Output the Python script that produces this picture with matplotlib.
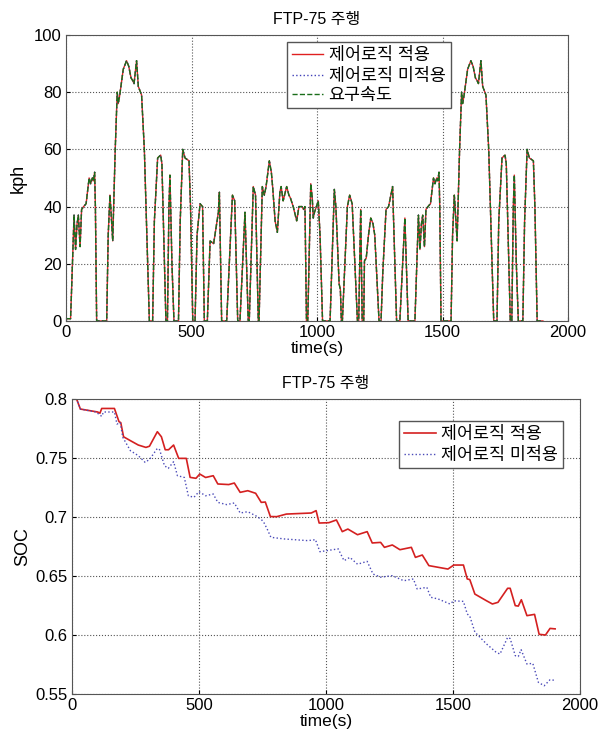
import matplotlib
matplotlib.use('Agg')
import matplotlib.pyplot as plt
import numpy as np
from matplotlib.ticker import FuncFormatter

plt.rcParams['font.family'] = ['Liberation Sans', 'Noto Sans CJK KR', 'DejaVu Sans']

# FTP-75 speed trace (time s, speed kph)
# cold start phase
bag1_t = [0, 18, 21, 32, 38, 44, 49, 56, 62, 70, 80, 92, 98, 105, 109, 114, 117, 122,
          162, 168, 175, 178, 186, 196, 204, 208, 214, 228, 241, 250, 259, 266, 271,
          281, 288, 301, 312, 322, 332, 345, 352, 365, 377, 382, 398, 404, 410, 414,
          422, 430, 448, 455, 465, 474, 490, 496, 505]
bag1_v = [0.8, 0.8, 8, 37, 25, 34, 37, 26, 39, 40, 41, 50, 48, 50, 49, 52, 40, 0,
          0, 30, 44, 40, 28, 60, 80, 76, 79, 88, 91, 89, 85, 84, 83,
          91, 82, 79, 60, 30, 0, 0, 35, 57, 58, 55, 0, 0, 40, 51,
          20, 0, 0, 35, 60, 57, 56, 40, 0]
# stabilized phase
bag2_t = [514, 522, 534, 544, 551, 563, 574, 588, 600, 607, 611, 620, 640, 663, 672,
          684, 693, 713, 726, 730, 746, 755, 766, 769, 782, 790, 797, 810, 818, 824,
          833, 842, 852, 857, 865, 879, 888, 894, 905, 919, 928, 940, 946, 952, 958,
          963, 975, 981, 985, 990, 1005, 1012, 1022, 1052, 1069, 1075, 1080, 1088,
          1093, 1097, 1101, 1121, 1130, 1140, 1161, 1166, 1174, 1180, 1186, 1189,
          1196, 1205, 1214, 1223, 1230, 1247, 1255, 1262, 1275, 1285, 1301, 1317,
          1330, 1350, 1363, 1372]
bag2_v = [0, 30, 41, 40, 0, 0, 28, 27, 34, 38, 45, 0, 0, 44, 42,
          0, 0, 38, 0, 0, 47, 44, 0, 0, 47, 44, 47, 56, 52, 46,
          35, 31, 45, 47, 42, 47, 44, 43, 40, 35, 40, 40, 39, 40, 0,
          0, 48, 43, 36, 38, 42, 30, 0, 0, 46, 40, 30, 13,
          11, 0, 0, 40, 44, 41, 0, 0, 39, 0, 0, 21,
          22, 30, 36, 34, 30, 0, 0, 17, 39, 40, 47, 0,
          0, 36, 0, 0]
# hot start phase
bag3_t = [1390, 1393, 1404, 1410, 1416, 1421, 1428, 1434, 1442, 1452, 1464, 1470,
          1477, 1481, 1486, 1489, 1494, 1534, 1540, 1547, 1550, 1558, 1568, 1576,
          1580, 1586, 1600, 1613, 1622, 1631, 1638, 1643, 1653, 1660, 1673, 1684,
          1694, 1704, 1717, 1724, 1737, 1749, 1754, 1770, 1776, 1782, 1786, 1794,
          1802, 1820, 1827, 1837, 1846, 1862, 1868, 1877, 1900]
bag3_v = [0, 8, 37, 25, 34, 37, 26, 39, 40, 41, 50, 48,
          50, 49, 52, 40, 0, 0, 30, 44, 40, 28, 60, 80,
          76, 79, 88, 91, 89, 85, 84, 83, 91, 82, 79, 60,
          30, 0, 0, 35, 57, 58, 55, 0, 0, 40, 51, 20,
          0, 0, 35, 60, 57, 56, 40, 0, 0]

speed_t = np.array(bag1_t + bag2_t + bag3_t)
speed_v = np.array(bag1_v + bag2_v + bag3_v)

# SOC traces
soc_on_t = [0, 18, 33, 101, 110, 117, 167, 185, 192, 203,
            230, 261, 291, 305, 336, 352, 367, 380, 400, 420,
            450, 465, 488, 503, 526, 556, 574, 617, 639, 662,
            692, 723, 745, 761, 781, 806, 844, 942, 961, 973,
            1011, 1041, 1064, 1086, 1124, 1162, 1182, 1215, 1230, 1261,
            1291, 1336, 1352, 1379, 1405, 1480, 1503, 1541, 1556, 1566,
            1586, 1632, 1655, 1677, 1715, 1725, 1745, 1757, 1769, 1791,
            1821, 1839, 1864, 1882, 1902]
soc_on = [0.800, 0.800, 0.7915, 0.789, 0.788, 0.792, 0.792, 0.7808, 0.780, 0.768,
          0.7647, 0.761, 0.759, 0.760, 0.7723, 0.768, 0.757, 0.757, 0.761, 0.7497,
          0.7497, 0.7336, 0.7328, 0.7364, 0.7335, 0.735, 0.728, 0.7275, 0.7288, 0.7209,
          0.7223, 0.7201, 0.7124, 0.7127, 0.7004, 0.7003, 0.7025, 0.7034, 0.7054, 0.6949,
          0.6952, 0.6975, 0.6876, 0.6898, 0.685, 0.6876, 0.678, 0.6785, 0.6743, 0.6763,
          0.6723, 0.6743, 0.6658, 0.6678, 0.6588, 0.6559, 0.6593, 0.6593, 0.6475, 0.647,
          0.6347, 0.629, 0.6263, 0.6277, 0.6396, 0.6396, 0.6249, 0.6245, 0.6299, 0.6164,
          0.6175, 0.6006, 0.600, 0.6056, 0.6052]

soc_off_t = [0, 18, 33, 94, 117, 124, 167, 177, 190, 200,
             230, 261, 288, 306, 336, 345, 364, 379, 400, 415,
             442, 458, 480, 500, 526, 556, 574, 609, 639, 662,
             692, 723, 745, 755, 768, 783, 836, 927, 950, 958,
             976, 1048, 1071, 1094, 1124, 1162, 1185, 1215, 1261, 1306,
             1344, 1359, 1397, 1412, 1442, 1488, 1503, 1541, 1556, 1566,
             1586, 1632, 1670, 1685, 1715, 1725, 1745, 1757, 1768, 1791,
             1814, 1836, 1859, 1882, 1905]
soc_off = [0.800, 0.800, 0.7915, 0.789, 0.7853, 0.789, 0.789, 0.7788, 0.780, 0.7675,
           0.7562, 0.752, 0.7463, 0.749, 0.7582, 0.757, 0.7435, 0.7412, 0.7469, 0.735,
           0.7336, 0.718, 0.7167, 0.7215, 0.718, 0.7195, 0.7124, 0.7105, 0.7119, 0.7034,
           0.7045, 0.7011, 0.698, 0.6955, 0.690, 0.6828, 0.6814, 0.680, 0.6805, 0.681,
           0.6706, 0.673, 0.663, 0.6658, 0.660, 0.6624, 0.6517, 0.649, 0.6503, 0.646,
           0.6475, 0.639, 0.6404, 0.632, 0.6305, 0.6263, 0.629, 0.6285, 0.6178, 0.616,
           0.6025, 0.5924, 0.5853, 0.5839, 0.598, 0.597, 0.5825, 0.5818, 0.5876, 0.5754,
           0.576, 0.5599, 0.557, 0.5621, 0.5615]

labels = ['제어로직 적용', '제어로직 미적용', '요구속도']
title = 'FTP-75 주행'

fig = plt.figure(figsize=(6.03, 7.30), dpi=100)

def style(ax):
    ax.grid(True, linestyle=':', color='#555555', linewidth=0.8)
    for s in ax.spines.values():
        s.set_color('#555555')
    ax.tick_params(direction='in', labelsize=12, length=3, pad=3)

def legend(ax, anchor):
    ax.legend(loc='upper left', bbox_to_anchor=anchor, fontsize=12.5,
              fancybox=False, edgecolor='#555555', framealpha=1, borderaxespad=0,
              handlelength=1.8, handletextpad=0.3, borderpad=0.3, labelspacing=0.25)

# top: speed
ax1 = fig.add_axes([0.1095, 0.5603, 0.8325, 0.3918])
ax1.plot(speed_t, speed_v, color='#e02020', lw=1.0, label=labels[0])
ax1.plot(speed_t, speed_v, color='#4040b8', lw=1.0, ls=':', label=labels[1])
ax1.plot(speed_t, speed_v, color='#1a6e1a', lw=1.0, ls='--', label=labels[2])
ax1.set_xlim(0, 2000)
ax1.set_ylim(0, 100)
ax1.set_xticks([0, 500, 1000, 1500, 2000])
ax1.set_yticks([0, 20, 40, 60, 80, 100])
style(ax1)
ax1.set_title(title, fontsize=11.5, pad=8)
ax1.set_xlabel('time(s)', fontsize=12.5, labelpad=0.5)
ax1.set_ylabel('kph', fontsize=13, labelpad=5)
legend(ax1, (0.44, 0.975))

# bottom: SOC
ax2 = fig.add_axes([0.1194, 0.0493, 0.8425, 0.4041])
ax2.plot(soc_on_t, soc_on, color='#d42020', lw=1.2, label=labels[0])
ax2.plot(soc_off_t, soc_off, color='#4a4ab8', lw=1.0, ls=':', label=labels[1])
ax2.set_xlim(0, 2000)
ax2.set_ylim(0.55, 0.8)
ax2.set_xticks([0, 500, 1000, 1500, 2000])
ax2.set_yticks([0.55, 0.6, 0.65, 0.7, 0.75, 0.8])
ax2.yaxis.set_major_formatter(FuncFormatter(lambda v, p: '%g' % round(v, 2)))
style(ax2)
ax2.set_title(title, fontsize=11.5, pad=8)
ax2.set_xlabel('time(s)', fontsize=12.5, labelpad=0.5)
ax2.set_ylabel('SOC', fontsize=13, labelpad=3)
legend(ax2, (0.644, 0.925))

fig.savefig('out.png', dpi=100)
